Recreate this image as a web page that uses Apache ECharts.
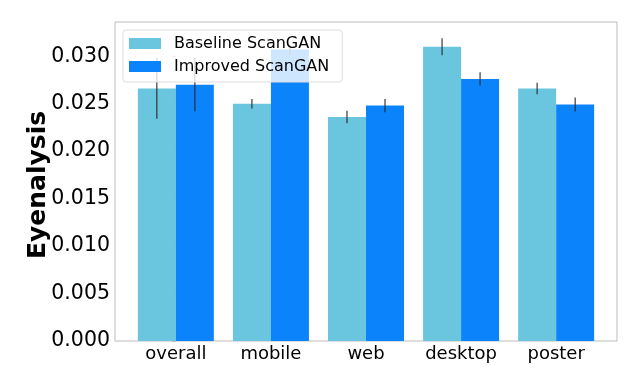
<!DOCTYPE html>
<html>
<head>
<meta charset="utf-8">
<script src="https://cdn.jsdelivr.net/npm/echarts@6/dist/echarts.min.js"></script>
<style>html,body{margin:0;padding:0;background:#fff;}#c{width:640px;height:384px;}</style>
</head>
<body>
<div id="c"></div>
<script>
const categories = ['overall', 'mobile', 'web', 'desktop', 'poster'];
const seriesNames = ['Baseline ScanGAN', 'Improved ScanGAN'];
const baselineValues = [0.0266, 0.0250, 0.0236, 0.0310, 0.0266];
const baselineErrors = [0.0032, 0.0005, 0.00066, 0.0009, 0.0006];
const improvedValues = [0.0270, 0.0307, 0.0248, 0.0276, 0.0249];
const improvedErrors = [0.0028, 0.0005, 0.0007, 0.0007, 0.00074];
const yTicks = [0, 0.005, 0.010, 0.015, 0.020, 0.025, 0.030];

const colors = ['#6AC5DE', '#0B83FB'];
const font = 'DejaVu Sans';
const barOffset = 0.2;

function barData(vals) { return vals.map((v, i) => [i, v]); }
function errData(vals, errs, off) { return vals.map((v, i) => [i + off, v, errs[i]]); }

function errRender(params, api) {
  const x = api.value(0), y = api.value(1), e = api.value(2);
  const p1 = api.coord([x, y - e]);
  const p2 = api.coord([x, y + e]);
  return {
    type: 'line',
    shape: { x1: p1[0], y1: p1[1], x2: p2[0], y2: p2[1] },
    style: { stroke: 'rgba(40,40,40,0.85)', lineWidth: 1.3 }
  };
}

const chart = echarts.init(document.getElementById('c'), null, { renderer: 'canvas' });
chart.setOption({
  animation: false,
  backgroundColor: '#fff',
  grid: { left: 115, right: 23, top: 22, bottom: 43, show: true, borderColor: '#bdbdbd', borderWidth: 1, containLabel: false },
  legend: {
    data: seriesNames,
    orient: 'vertical',
    left: 123, top: 30,
    itemWidth: 32, itemHeight: 11, itemGap: 4,
    padding: [4, 13, 6, 6],
    backgroundColor: 'rgba(255,255,255,0.8)',
    borderColor: '#dddddd', borderWidth: 1, borderRadius: 3,
    textStyle: { fontFamily: font, fontSize: 16, lineHeight: 19, color: '#000', padding: [0, 0, 0, 8] },
    icon: 'rect'
  },
  xAxis: {
    type: 'value', min: -0.64, max: 4.64,
    axisLine: { show: false },
    axisTick: { show: false },
    splitLine: { show: false },
    axisLabel: {
      customValues: categories.map((c, i) => i),
      formatter: v => categories[Math.round(v)],
      fontFamily: font, fontSize: 18, color: '#000', margin: 4
    }
  },
  yAxis: {
    type: 'value', min: 0, max: 0.0336,
    name: 'Eyenalysis', nameLocation: 'middle', nameGap: 64, nameMoveOverlap: false,
    nameTextStyle: { fontFamily: font, fontSize: 25, fontWeight: 'bold', color: '#000', padding: [0, 7, 0, 0] },
    axisLine: { show: false },
    axisTick: { show: true, customValues: yTicks, length: 4, lineStyle: { color: '#bdbdbd' } },
    splitLine: { show: false },
    axisLabel: {
      customValues: yTicks,
      formatter: v => v.toFixed(3),
      fontFamily: font, fontSize: 20.5, color: '#000', margin: 5
    }
  },
  series: [
    { name: seriesNames[0], type: 'bar', data: barData(baselineValues), barWidth: 38, barGap: '0%',
      itemStyle: { color: colors[0] }, z: 2 },
    { name: seriesNames[1], type: 'bar', data: barData(improvedValues), barWidth: 38, barGap: '0%',
      itemStyle: { color: colors[1] }, z: 2 },
    { type: 'custom', renderItem: errRender, data: errData(baselineValues, baselineErrors, -barOffset), z: 3, silent: true },
    { type: 'custom', renderItem: errRender, data: errData(improvedValues, improvedErrors, barOffset), z: 3, silent: true }
  ]
});
</script>
</body>
</html>
